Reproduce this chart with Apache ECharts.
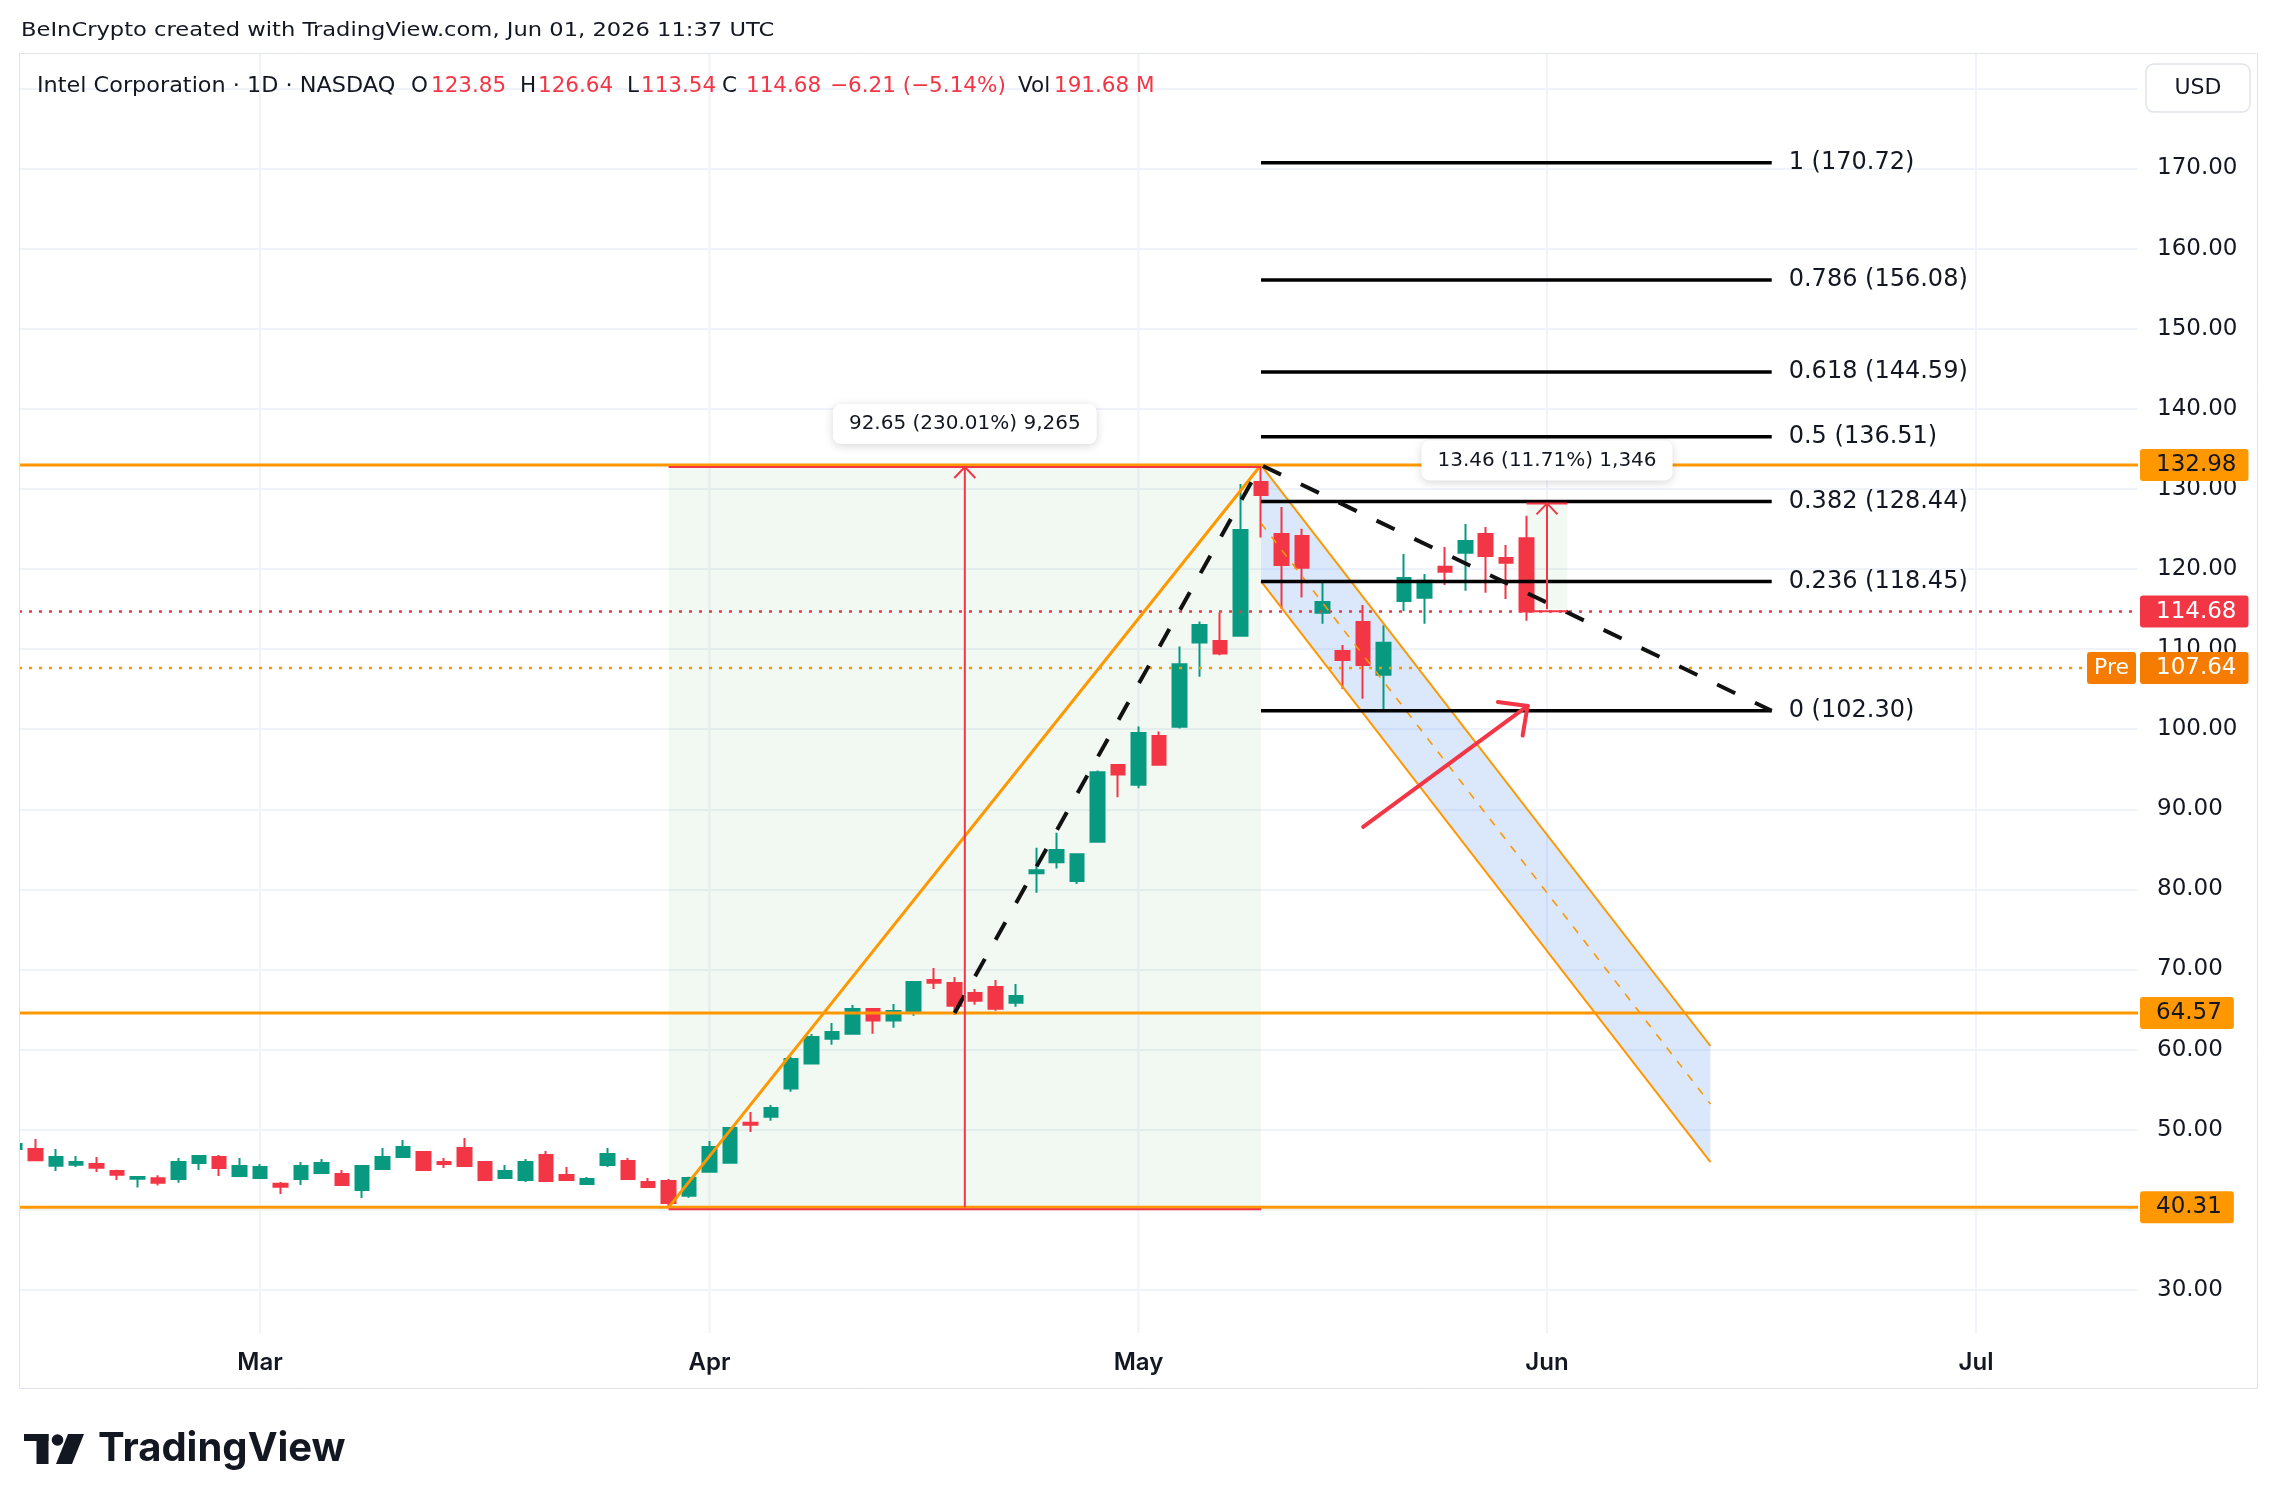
<!DOCTYPE html>
<html>
<head>
<meta charset="utf-8">
<script src="https://cdn.jsdelivr.net/npm/echarts@6/dist/echarts.min.js"></script>
<style>
  html, body { margin: 0; padding: 0; background: #fff; }
  #chart { width: 2278px; height: 1510px; }
</style>
</head>
<body>
<div id="chart"></div>
<script>
// INTC daily candles, bar index 0 = 2026-02-11 (trading days only)
const opens = [47.6, 47.59, 45.51, 45.64, 45.72, 44.85, 43.89, 43.93, 43.85, 45.84, 46.59, 44.22,
  43.97, 43.26, 43.85, 44.60, 44.47, 42.47, 45.10, 46.59, 47.22, 45.97, 47.72, 45.97, 43.97, 43.72,
  46.84, 44.35, 43.22, 45.60, 46.09, 43.47, 43.60, 41.77,
  44.74, 45.87, 50.86, 51.61, 55.13, 58.25, 61.37, 61.99, 65.07, 63.62, 64.70, 68.69, 68.32, 67.07,
  67.82, 65.86, 82.02, 83.40, 81.04, 85.94, 95.53,
  93.08, 99.14, 100.30, 110.82, 111.00, 111.67, 130.87, 124.36, 124.13, 114.54, 109.76, 113.38,
  106.80, 116.00, 116.42, 120.29, 122.03, 124.36, 121.37, 123.85];
const closes = [48.2, 46.18, 46.59, 45.97, 45.26, 44.39, 44.10, 43.39, 45.97, 46.72, 45.22, 45.47,
  45.35, 42.89, 45.47, 45.84, 43.10, 45.47, 46.59, 47.84, 44.97, 45.72, 45.47, 43.72, 44.85, 45.97,
  43.60, 43.72, 43.85, 46.97, 43.85, 42.85, 40.85, 43.97,
  47.84, 50.22, 50.63, 52.71, 58.83, 61.58, 62.20, 65.07, 63.62, 64.82, 68.44, 68.36, 65.49, 66.11,
  65.11, 66.69, 82.38, 84.92, 84.38, 94.64, 94.33,
  99.54, 95.57, 108.10, 113.00, 109.44, 124.87, 129.25, 120.49, 120.17, 115.88, 108.63, 108.01,
  110.79, 118.87, 118.54, 119.66, 123.49, 121.62, 120.79, 114.68];
const lows = [47.2, 46.09, 44.85, 45.35, 44.72, 43.72, 42.77, 43.02, 43.39, 44.97, 44.22, 44.18,
  43.85, 41.97, 43.10, 44.55, 43.05, 41.47, 45.05, 46.47, 44.90, 45.22, 45.40, 43.70, 43.85, 43.47,
  43.47, 43.60, 43.10, 45.35, 43.72, 42.72, 40.31, 41.52,
  44.70, 45.80, 49.72, 51.11, 54.75, 58.20, 60.62, 61.90, 61.99, 62.74, 64.24, 67.57, 64.32, 65.61,
  64.86, 65.36, 79.57, 82.60, 80.68, 85.81, 91.52,
  92.63, 95.50, 100.08, 106.54, 109.22, 111.60, 123.93, 115.03, 116.45, 113.17, 105.02, 103.80,
  102.30, 114.75, 113.17, 118.00, 117.29, 117.04, 116.25, 113.54];
const highs = [48.6, 48.84, 47.59, 46.72, 46.59, 45.01, 44.22, 44.31, 46.47, 46.84, 46.84, 46.47,
  45.72, 43.47, 45.97, 46.34, 44.97, 45.60, 47.72, 48.72, 47.34, 46.47, 48.97, 46.00, 45.60, 46.34,
  47.34, 45.35, 44.10, 47.72, 46.47, 43.97, 43.85, 44.14,
  48.59, 50.30, 52.21, 53.09, 59.08, 61.95, 63.32, 65.57, 65.10, 65.70, 68.50, 70.19, 69.07, 67.57,
  68.69, 68.19, 85.19, 87.06, 84.52, 94.86, 95.62,
  100.34, 99.72, 110.33, 113.45, 114.57, 130.62, 132.98, 127.73, 125.02, 118.50, 110.51, 115.50,
  112.99, 121.87, 119.37, 122.74, 125.61, 125.24, 122.99, 126.64];

// time axis
const monthStarts = [12, 34, 55, 75, 96];
const monthNames = ['Mar', 'Apr', 'May', 'Jun', 'Jul'];

// horizontal levels
const levelPrices = [132.98, 64.57, 40.31];
const lastClose = 114.68;
const prePrice = 107.64;

// fibonacci levels
const fibRatios = ['1', '0.786', '0.618', '0.5', '0.382', '0.236', '0'];
const fibPrices = [170.72, 156.08, 144.59, 136.51, 128.44, 118.45, 102.30];
const fibSpan = [61, 86];

// price range tools
const rangeStart = [32, 74];
const rangeEnd = [61, 76];
const rangeLow = [40.31, 114.98];
const rangeHigh = [132.98, 128.44];
const rangeText = ['92.65 (230.01%) 9,265', '13.46 (11.71%) 1,346'];

// trend lines
const rallyLine = [[32, 40.31], [61, 132.98]];
const dashPath = [[46, 64.57], [61, 132.98], [86, 102.30]];
const channelUpper = [[61, 132.98], [83, 60.45]];
const channelLower = [[61, 118.45], [83, 45.95]];
const arrowFrom = [66, 87.8];
const arrowTo = [74.05, 102.9];

const FONT = '"DejaVu Sans", sans-serif';
const TIME_FONT = 'Inter, sans-serif';
const TXT = '#131722', RED = '#f23645', GREEN = '#089981', ORANGE = '#ff9800';

const measureCtx = document.createElement('canvas').getContext('2d');
const textWidth = (t, size) => { measureCtx.font = size + 'px "DejaVu Sans"'; return measureCtx.measureText(t).width; };

const line = (a, b, style) => ({ type: 'line', shape: { x1: a[0], y1: a[1], x2: b[0], y2: b[1] }, style });

const chart = echarts.init(document.getElementById('chart'));

const candleData = opens.map((o, i) => [i, o, closes[i], lows[i], highs[i]]);

const legendBits = [
  [37, 'Intel Corporation · 1D · NASDAQ', TXT, 1.04],
  [411, 'O', TXT, 1], [431, '123.85', RED, 1],
  [520, 'H', TXT, 1], [538, '126.64', RED, 1],
  [627, 'L', TXT, 1], [641, '113.54', RED, 1],
  [722, 'C', TXT, 1], [746, '114.68', RED, 1],
  [830, '−6.21 (−5.14%)', RED, 1],
  [1018, 'Vol', TXT, 1], [1054, '191.68 M', RED, 1],
];

chart.setOption({
  animation: false,
  backgroundColor: '#fff',
  grid: { left: 19, right: 140, top: 53, bottom: 177 },
  xAxis: { type: 'value', min: 0.2, max: 103.93, show: false },
  yAxis: {
    type: 'value', position: 'right', min: 24.62, max: 184.42, splitNumber: 16, scale: true,
    axisLine: { show: false },
    axisTick: { show: false },
    splitLine: { showMinLine: false, showMaxLine: false, lineStyle: { color: '#f0f3fa', width: 2 } },
    axisLabel: {
      margin: 19, color: TXT, fontSize: 23, fontFamily: FONT,
      showMinLabel: false, showMaxLabel: false,
      formatter: v => (v > 175 || v < 25) ? '' : v.toFixed(2)
    }
  },
  graphic: [
    { type: 'rect', z: 50, shape: { x: 0, y: 53, width: 19.5, height: 1336 }, style: { fill: '#fff' } },
    { type: 'rect', z: 100, shape: { x: 19.5, y: 53.5, width: 2238, height: 1335 }, style: { fill: null, stroke: '#e0e3eb', lineWidth: 1 } },
    { type: 'text', z: 100, x: 21, y: 31, scaleX: 1.13, style: { text: 'BeInCrypto created with TradingView.com, Jun 01, 2026 11:37 UTC', fill: TXT, fontSize: 20, fontFamily: FONT, verticalAlign: 'middle' } },
    ...legendBits.map(([x, t, c, sx]) => ({ type: 'text', z: 100, x, y: 86, scaleX: sx, style: { text: t, fill: c, fontSize: 21.5, fontFamily: FONT, verticalAlign: 'middle' } })),
    { type: 'rect', z: 100, shape: { x: 2146, y: 64, width: 104, height: 48, r: 8 }, style: { fill: '#fff', stroke: '#e0e3eb', lineWidth: 1.5 } },
    { type: 'text', z: 101, x: 2198, y: 88, style: { text: 'USD', fill: TXT, fontSize: 22, fontFamily: FONT, align: 'center', verticalAlign: 'middle' } },
    // TradingView logo
    { type: 'rect', z: 100, shape: { x: 24, y: 1434, width: 24.5, height: 7 }, style: { fill: TXT } },
    { type: 'rect', z: 100, shape: { x: 36.5, y: 1434, width: 12, height: 30 }, style: { fill: TXT } },
    { type: 'circle', z: 100, shape: { cx: 57.5, cy: 1440, r: 5.8 }, style: { fill: TXT } },
    { type: 'polygon', z: 100, shape: { points: [[68, 1434], [84, 1434], [72, 1464], [56, 1464]] }, style: { fill: TXT } },
    { type: 'text', z: 100, x: 98, y: 1449, style: { text: 'TradingView', fill: TXT, fontSize: 40, fontWeight: 700, fontFamily: TIME_FONT, verticalAlign: 'middle' } }
  ],
  series: [
    {
      // month grid lines + time axis labels
      type: 'custom', z: 1, clip: false, silent: true,
      data: monthStarts.map(i => [i, 100]),
      renderItem(params, api) {
        const cs = params.coordSys;
        const x = api.coord([api.value(0), 100])[0];
        return { type: 'group', children: [
          line([x, cs.y], [x, cs.y + cs.height], { stroke: '#f0f3fa', lineWidth: 2 }),
          { type: 'text', x, y: cs.y + cs.height + 30, style: { text: monthNames[params.dataIndex], fill: TXT, fontSize: 24, fontWeight: 600, fontFamily: TIME_FONT, align: 'center', verticalAlign: 'middle' } }
        ] };
      }
    },
    {
      // price range backgrounds
      type: 'custom', z: 1, clip: true, silent: true,
      data: rangeStart.map((s, i) => [s, rangeHigh[i]]),
      renderItem(params, api) {
        const i = params.dataIndex;
        const tl = api.coord([rangeStart[i], rangeHigh[i]]);
        const br = api.coord([rangeEnd[i], rangeLow[i]]);
        return { type: 'rect', shape: { x: tl[0], y: tl[1], width: br[0] - tl[0], height: br[1] - tl[1] }, style: { fill: 'rgba(76,175,80,0.075)' } };
      }
    },
    {
      // descending channel fill
      type: 'custom', z: 1, clip: true, silent: true,
      data: [channelUpper[0]],
      renderItem(params, api) {
        const pts = [channelUpper[0], channelUpper[1], channelLower[1], channelLower[0]].map(p => api.coord(p));
        return { type: 'polygon', shape: { points: pts }, style: { fill: 'rgba(41,120,240,0.17)' } };
      }
    },
    {
      type: 'candlestick', z: 2,
      data: candleData,
      encode: { x: 0, y: [1, 2, 3, 4] },
      barWidth: 14,
      itemStyle: { color: GREEN, color0: RED, borderColor: GREEN, borderColor0: RED, borderWidth: 2 }
    },
    {
      // channel lines
      type: 'custom', z: 3, clip: true, silent: true,
      data: [channelUpper[0]],
      renderItem(params, api) {
        const u0 = api.coord(channelUpper[0]), u1 = api.coord(channelUpper[1]);
        const l0 = api.coord(channelLower[0]), l1 = api.coord(channelLower[1]);
        const m0 = [(u0[0] + l0[0]) / 2, (u0[1] + l0[1]) / 2], m1 = [(u1[0] + l1[0]) / 2, (u1[1] + l1[1]) / 2];
        return { type: 'group', children: [
          line(u0, u1, { stroke: ORANGE, lineWidth: 2 }),
          line(l0, l1, { stroke: ORANGE, lineWidth: 2 }),
          line(m0, m1, { stroke: ORANGE, lineWidth: 1.6, lineDash: [8, 9] })
        ] };
      }
    },
    {
      // horizontal support / resistance lines + last / pre-market price lines
      type: 'custom', z: 4, clip: true, silent: true,
      data: levelPrices.concat([lastClose, prePrice]).map(p => [0, p]),
      renderItem(params, api) {
        const cs = params.coordSys;
        const y = api.coord([0, api.value(1)])[1];
        const i = params.dataIndex;
        const style = i < levelPrices.length
          ? { stroke: ORANGE, lineWidth: 3 }
          : { stroke: i === levelPrices.length ? RED : ORANGE, lineWidth: 2.5, lineDash: [3, 7] };
        return line([cs.x, y], [cs.x + cs.width, y], style);
      }
    },
    {
      type: 'line', z: 4, symbol: 'none', silent: true,
      data: rallyLine,
      lineStyle: { color: ORANGE, width: 3 }
    },
    {
      type: 'line', z: 5, symbol: 'none', silent: true,
      data: dashPath,
      lineStyle: { color: '#111', width: 4, type: [20, 22], cap: 'butt' }
    },
    {
      // fibonacci levels
      type: 'custom', z: 5, clip: true, silent: true,
      data: fibPrices.map(p => [fibSpan[0], p]),
      renderItem(params, api) {
        const i = params.dataIndex;
        const a = api.coord([fibSpan[0], fibPrices[i]]), b = api.coord([fibSpan[1], fibPrices[i]]);
        return { type: 'group', children: [
          line(a, b, { stroke: '#000', lineWidth: 3.5 }),
          { type: 'text', x: b[0] + 17, y: b[1], style: { text: fibRatios[i] + ' (' + fibPrices[i].toFixed(2) + ')', fill: TXT, fontSize: 24, fontFamily: FONT, verticalAlign: 'middle' } }
        ] };
      }
    },
    {
      // red arrow
      type: 'custom', z: 6, clip: true, silent: true,
      data: [arrowFrom],
      renderItem(params, api) {
        const a = api.coord(arrowFrom), b = api.coord(arrowTo);
        const ang = Math.atan2(a[1] - b[1], a[0] - b[0]);
        const arm = (d) => [b[0] + 30 * Math.cos(ang + d), b[1] + 30 * Math.sin(ang + d)];
        const st = { stroke: RED, lineWidth: 4, lineCap: 'round' };
        return { type: 'group', children: [line(a, b, st), line(b, arm(0.77), st), line(b, arm(-0.77), st)] };
      }
    },
    {
      // price range marks and labels
      type: 'custom', z: 7, clip: false, silent: true,
      data: rangeStart.map((s, i) => [s, rangeHigh[i]]),
      renderItem(params, api) {
        const i = params.dataIndex;
        const tl = api.coord([rangeStart[i], rangeHigh[i]]);
        const br = api.coord([rangeEnd[i], rangeLow[i]]);
        const mx = api.coord([(rangeStart[i] + rangeEnd[i]) / 2, rangeHigh[i]])[0];
        const tw = textWidth(rangeText[i], 20) + 32;
        const st = { stroke: RED, lineWidth: 2 };
        return { type: 'group', children: [
          line([tl[0], tl[1] + 2], [br[0], tl[1] + 2], st),
          line([tl[0], br[1] + 2], [br[0], br[1] + 2], st),
          line([mx, br[1]], [mx, tl[1] + 2], st),
          { type: 'polyline', shape: { points: [[mx - 10.5, tl[1] + 13], [mx, tl[1] + 2], [mx + 10.5, tl[1] + 13]] }, style: { stroke: RED, lineWidth: 2, fill: null } },
          { type: 'rect', shape: { x: mx - tw / 2, y: tl[1] - 61, width: tw, height: 40, r: 8 }, style: { fill: '#fff', shadowBlur: 10, shadowColor: 'rgba(0,0,0,0.16)', shadowOffsetY: 2 } },
          { type: 'text', x: mx, y: tl[1] - 41, style: { text: rangeText[i], fill: TXT, fontSize: 20, fontFamily: FONT, align: 'center', verticalAlign: 'middle' } }
        ] };
      }
    },
    {
      // price tags on the right axis
      type: 'custom', z: 10, clip: false, silent: true,
      data: levelPrices.concat([lastClose, prePrice]).map(p => [0, p]),
      renderItem(params, api) {
        const cs = params.coordSys;
        const i = params.dataIndex;
        const p = api.value(1);
        const y = api.coord([0, p])[1];
        const x0 = cs.x + cs.width + 2;
        const isLast = i === levelPrices.length, isPre = i === levelPrices.length + 1;
        const bg = isLast ? RED : (isPre ? '#f57c00' : ORANGE);
        const fg = (isLast || isPre) ? '#fff' : TXT;
        const tag = { type: 'text', x: x0, y, style: { text: p.toFixed(2), fill: fg, fontSize: 23, fontFamily: FONT, verticalAlign: 'middle', backgroundColor: bg, padding: [5, 12, 5, 16], lineHeight: 22, borderRadius: 3 } };
        const kids = [tag];
        if (isPre) kids.push({ type: 'text', x: x0 - 4, y, style: { text: 'Pre', fill: '#fff', fontSize: 22, fontFamily: FONT, align: 'right', verticalAlign: 'middle', backgroundColor: '#f57c00', padding: [5, 7, 5, 7], lineHeight: 22, borderRadius: 3 } });
        return { type: 'group', children: kids };
      }
    }
  ]
});
</script>
</body>
</html>
